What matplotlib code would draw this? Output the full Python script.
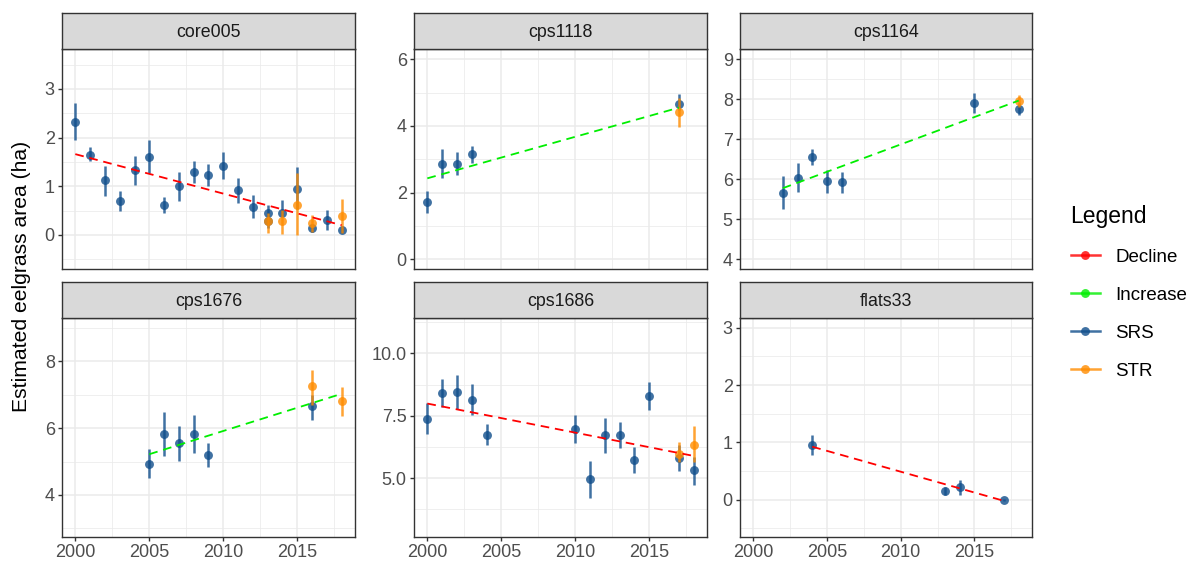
import matplotlib
matplotlib.use("Agg")
import matplotlib.pyplot as plt
from matplotlib.lines import Line2D
from matplotlib.ticker import MultipleLocator, FixedLocator

plt.rcParams['font.family'] = ['Liberation Sans', 'DejaVu Sans']

# ---- data: estimated eelgrass area (ha) with interval bounds ----
sites = ["core005", "cps1118", "cps1164", "cps1676", "cps1686", "flats33"]

core005_srs_year = [2000, 2001, 2002, 2003, 2004, 2005, 2006, 2007, 2008, 2009, 2010,
                    2011, 2012, 2013, 2013, 2014, 2015, 2016, 2017, 2018]
core005_srs_est = [2.33, 1.65, 1.12, 0.70, 1.34, 1.61, 0.62, 1.00, 1.30, 1.23, 1.42,
                   0.92, 0.58, 0.45, 0.29, 0.45, 0.94, 0.15, 0.31, 0.11]
core005_srs_lo = [1.95, 1.51, 0.81, 0.49, 1.03, 1.27, 0.45, 0.70, 1.07, 1.01, 1.15,
                  0.66, 0.34, 0.28, 0.14, 0.38, 0.53, 0.06, 0.11, 0.03]
core005_srs_hi = [2.72, 1.80, 1.42, 0.90, 1.63, 1.95, 0.77, 1.29, 1.52, 1.45, 1.71,
                  1.16, 0.82, 0.62, 0.45, 0.72, 1.39, 0.22, 0.52, 0.18]
core005_str_year = [2013, 2014, 2015, 2016, 2018]
core005_str_est = [0.29, 0.29, 0.62, 0.25, 0.38]
core005_str_lo = [0.04, 0.02, 0.00, 0.07, 0.03]
core005_str_hi = [0.45, 0.52, 1.27, 0.40, 0.73]

cps1118_srs_year = [2000, 2001, 2002, 2003, 2017]
cps1118_srs_est = [1.71, 2.85, 2.87, 3.15, 4.65]
cps1118_srs_lo = [1.38, 2.43, 2.53, 2.90, 4.48]
cps1118_srs_hi = [2.05, 3.30, 3.22, 3.40, 4.95]
cps1118_str_year = [2017]
cps1118_str_est = [4.42]
cps1118_str_lo = [3.98]
cps1118_str_hi = [4.83]

cps1164_srs_year = [2002, 2003, 2004, 2005, 2006, 2015, 2018]
cps1164_srs_est = [5.67, 6.03, 6.56, 5.96, 5.93, 7.92, 7.77]
cps1164_srs_lo = [5.26, 5.68, 6.35, 5.67, 5.67, 7.67, 7.61]
cps1164_srs_hi = [6.08, 6.40, 6.76, 6.23, 6.19, 8.17, 7.90]
cps1164_str_year = [2018]
cps1164_str_est = [7.96]
cps1164_str_lo = [7.82]
cps1164_str_hi = [8.11]

cps1676_srs_year = [2005, 2006, 2007, 2008, 2009, 2016]
cps1676_srs_est = [4.94, 5.83, 5.56, 5.84, 5.19, 6.67]
cps1676_srs_lo = [4.50, 5.17, 5.03, 5.27, 4.83, 6.25]
cps1676_srs_hi = [5.38, 6.49, 6.07, 6.40, 5.55, 7.00]
cps1676_str_year = [2016, 2018]
cps1676_str_est = [7.25, 6.80]
cps1676_str_lo = [6.70, 6.37]
cps1676_str_hi = [7.75, 7.23]

cps1686_srs_year = [2000, 2001, 2002, 2003, 2004, 2010, 2011, 2012, 2013, 2014, 2015, 2017, 2018]
cps1686_srs_est = [7.39, 8.40, 8.46, 8.13, 6.74, 6.96, 4.96, 6.71, 6.72, 5.71, 8.30, 5.81, 5.32]
cps1686_srs_lo = [6.75, 7.86, 7.79, 7.53, 6.31, 6.39, 4.22, 5.99, 6.19, 5.19, 7.75, 5.28, 4.72]
cps1686_srs_hi = [8.02, 8.96, 9.14, 8.77, 7.19, 7.53, 5.68, 7.42, 7.26, 6.25, 8.84, 6.32, 5.85]
cps1686_str_year = [2017, 2018]
cps1686_str_est = [5.96, 6.32]
cps1686_str_lo = [5.65, 5.65]
cps1686_str_hi = [6.45, 7.10]

flats33_srs_year = [2004, 2013, 2014, 2017]
flats33_srs_est = [0.96, 0.15, 0.22, 0.00]
flats33_srs_lo = [0.78, 0.08, 0.08, -0.02]
flats33_srs_hi = [1.13, 0.22, 0.34, 0.02]
flats33_str_year = []
flats33_str_est = []
flats33_str_lo = []
flats33_str_hi = []

# fitted trend per site: direction, first year, fitted start, last year, fitted end
trend_dir = ["Decline", "Increase", "Increase", "Increase", "Decline", "Decline"]
trend_x0 = [2000, 2000, 2002, 2005, 2000, 2004]
trend_y0 = [1.66, 2.43, 5.78, 5.22, 7.99, 0.925]
trend_x1 = [2018, 2017, 2018, 2018, 2018, 2017]
trend_y1 = [0.20, 4.55, 7.97, 7.03, 5.89, -0.02]

y_ticks = [[0, 1, 2, 3], [0, 2, 4, 6], [4, 5, 6, 7, 8, 9],
           [4, 6, 8], [5.0, 7.5, 10.0], [0, 1, 2, 3]]
y_tick_labels = [["0", "1", "2", "3"], ["0", "2", "4", "6"],
                 ["4", "5", "6", "7", "8", "9"], ["4", "6", "8"],
                 ["5.0", "7.5", "10.0"], ["0", "1", "2", "3"]]
x_ticks = [2000, 2005, 2010, 2015]

srs = {
    "core005": (core005_srs_year, core005_srs_est, core005_srs_lo, core005_srs_hi),
    "cps1118": (cps1118_srs_year, cps1118_srs_est, cps1118_srs_lo, cps1118_srs_hi),
    "cps1164": (cps1164_srs_year, cps1164_srs_est, cps1164_srs_lo, cps1164_srs_hi),
    "cps1676": (cps1676_srs_year, cps1676_srs_est, cps1676_srs_lo, cps1676_srs_hi),
    "cps1686": (cps1686_srs_year, cps1686_srs_est, cps1686_srs_lo, cps1686_srs_hi),
    "flats33": (flats33_srs_year, flats33_srs_est, flats33_srs_lo, flats33_srs_hi),
}
strs = {
    "core005": (core005_str_year, core005_str_est, core005_str_lo, core005_str_hi),
    "cps1118": (cps1118_str_year, cps1118_str_est, cps1118_str_lo, cps1118_str_hi),
    "cps1164": (cps1164_str_year, cps1164_str_est, cps1164_str_lo, cps1164_str_hi),
    "cps1676": (cps1676_str_year, cps1676_str_est, cps1676_str_lo, cps1676_str_hi),
    "cps1686": (cps1686_str_year, cps1686_str_est, cps1686_str_lo, cps1686_str_hi),
    "flats33": (flats33_str_year, flats33_str_est, flats33_str_lo, flats33_str_hi),
}

# ---- styling ----
colors = {"Decline": "#FF0000", "Increase": "#00EE00",
          "SRS": "#104E8B", "STR": "#FF8C00"}
ALPHA = 0.8
GRID = "#EBEBEB"
BORDER = "#333333"
TICK_TXT = "#4D4D4D"

W, H = 1192, 566
fig = plt.figure(figsize=(W / 100, H / 100), dpi=100)

col_px = [(62, 355), (414, 707), (740, 1032)]
row_px = [(13, 49, 269), (282, 318, 537)]  # strip top, plot top, plot bottom
ylims = [(-0.70, 3.82), (-0.29, 6.31), (3.76, 9.26),
         (2.74, 9.30), (2.64, 11.42), (-0.65, 3.17)]
xlim = (1999.1, 2018.9)


def draw_series(ax, data, color, z):
    yr, est, lo, hi = data
    if not yr:
        return
    ax.vlines(yr, lo, hi, colors=color, alpha=ALPHA, lw=1.8, zorder=z)
    ax.plot(yr, est, "o", color=color, alpha=ALPHA, ms=6.4, mew=0, zorder=z + 0.1)


for i, site in enumerate(sites):
    r, c = divmod(i, 3)
    l, rr = col_px[c]
    st, pt, pb = row_px[r]
    ax = fig.add_axes([l / W, 1 - pb / H, (rr - l) / W, (pb - pt) / H])
    sax = fig.add_axes([l / W, 1 - pt / H, (rr - l) / W, (pt - st) / H])

    # strip
    sax.set_facecolor("#D9D9D9")
    sax.set_xticks([])
    sax.set_yticks([])
    for s in sax.spines.values():
        s.set_color(BORDER)
        s.set_linewidth(1.0)
    sax.text(0.5, 0.47, site, ha="center", va="center", fontsize=12.8,
             color="#1A1A1A", transform=sax.transAxes)

    # panel
    ax.set_xlim(*xlim)
    ax.set_ylim(*ylims[i])
    ax.set_facecolor("white")
    for s in ax.spines.values():
        s.set_color(BORDER)
        s.set_linewidth(1.0)
        s.set_zorder(5)
    yt = y_ticks[i]
    step = yt[1] - yt[0]
    ax.yaxis.set_major_locator(FixedLocator(yt))
    ax.set_yticklabels(y_tick_labels[i])
    ax.yaxis.set_minor_locator(MultipleLocator(step / 2))
    ax.xaxis.set_major_locator(FixedLocator(x_ticks))
    ax.xaxis.set_minor_locator(MultipleLocator(2.5))
    ax.grid(which="major", color=GRID, lw=1.1, zorder=0)
    ax.grid(which="minor", color=GRID, lw=0.55, zorder=0)
    ax.set_axisbelow(True)
    ax.tick_params(which="minor", length=0)
    ax.tick_params(axis="y", which="major", length=3.2, width=1.0, color=BORDER,
                   labelsize=13, labelcolor=TICK_TXT, pad=2)
    if r == 1:
        ax.tick_params(axis="x", which="major", length=3.2, width=1.0, color=BORDER,
                       labelsize=13, labelcolor=TICK_TXT, pad=2)
    else:
        ax.tick_params(axis="x", which="major", length=0, labelbottom=False)

    draw_series(ax, srs[site], colors["SRS"], 2)
    draw_series(ax, strs[site], colors["STR"], 3)

    ax.plot([trend_x0[i], trend_x1[i]], [trend_y0[i], trend_y1[i]],
            color=colors[trend_dir[i]], lw=1.3, dashes=(4.8, 3.2), zorder=4)

fig.text(22 / W, 1 - 276 / H, "Estimated eelgrass area (ha)", rotation=90,
         ha="center", va="center", fontsize=15.2, color="black")

handles = [Line2D([0], [0], color=colors[k], alpha=ALPHA, lw=1.8, marker="o",
                  ms=6.4, mew=0) for k in ["Decline", "Increase", "SRS", "STR"]]
leg = fig.legend(handles, ["Decline", "Increase", "SRS", "STR"],
                 loc="upper left", bbox_to_anchor=(1063 / W, 1 - 197 / H),
                 frameon=False, fontsize=13.5, title="Legend", title_fontsize=16.5,
                 handlelength=1.55, handletextpad=0.85, labelspacing=1.12,
                 alignment="left", borderaxespad=0)

fig.savefig("out.png", dpi=100)
